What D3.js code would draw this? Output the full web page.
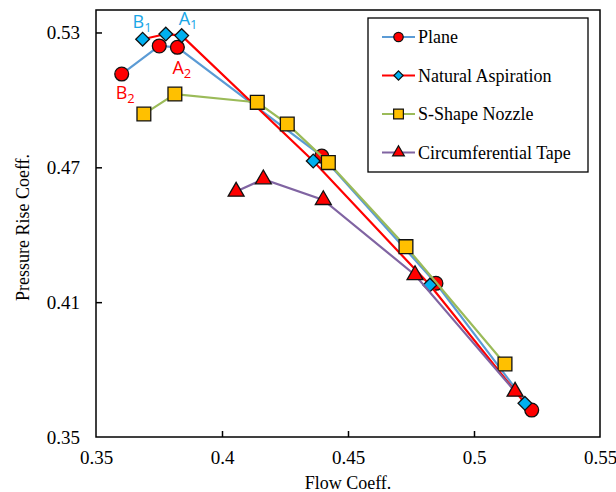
<!DOCTYPE html>
<html>
<head>
<meta charset="utf-8">
<script src="https://cdn.jsdelivr.net/npm/d3@7"></script>
<style>
  body { margin: 0; background: #fff; }
  svg { display: block; font-family: "Liberation Serif", "Times New Roman", serif; }
</style>
</head>
<body>
<div class="visHolder"></div>
<script>
// ========================================
// Data
// ========================================
const seriesNames = ['Plane', 'Natural Aspiration', 'S-Shape Nozzle', 'Circumferential Tape'];

const planeFlow     = [0.3602, 0.3751, 0.3823, 0.4396, 0.4849, 0.5229];
const planePress    = [0.5115, 0.5240, 0.5234, 0.4750, 0.4184, 0.3620];

const naturalFlow   = [0.3685, 0.3777, 0.3840, 0.4362, 0.4825, 0.5202];
const naturalPress  = [0.5270, 0.5293, 0.5286, 0.4728, 0.4176, 0.3650];

const sShapeFlow    = [0.3690, 0.3813, 0.4140, 0.4259, 0.4422, 0.4730, 0.5123];
const sShapePress   = [0.4937, 0.5026, 0.4989, 0.4893, 0.4721, 0.4347, 0.3825];

const tapeFlow      = [0.4056, 0.4164, 0.4402, 0.4766, 0.5163];
const tapePress     = [0.4592, 0.4647, 0.4555, 0.4221, 0.3702];

const xTicks = [0.35, 0.4, 0.45, 0.5, 0.55];
const yTicks = [0.35, 0.41, 0.47, 0.53];

// point labels: text, subscript, series the label belongs to, index of point
const pointLabels = [
  {t: 'B', sub: '1', s: 1, i: 0},
  {t: 'A', sub: '1', s: 1, i: 2},
  {t: 'A', sub: '2', s: 0, i: 2},
  {t: 'B', sub: '2', s: 0, i: 0}
];

// ========================================
// Dimensions and styles
// ========================================
const width = 616, height = 492;
const plot = {left: 96, right: 600, top: 10, bottom: 437};
const serif = '"Liberation Serif", "Times New Roman", serif';

const styles = [
  {line: '#5b9bd5', fill: '#ff0000', shape: d3.symbolCircle,   size: 150},
  {line: '#ff0000', fill: '#00b0f0', shape: d3.symbolDiamond2, size: 120},
  {line: '#9bbb59', fill: '#ffc000', shape: d3.symbolSquare,   size: 190},
  {line: '#8064a2', fill: '#ff0000', shape: d3.symbolTriangle, size: 110}
];
const labelColors = ['#ff0000', '#1aa6e6'];

const series = [
  planeFlow.map((x, i) => ({x, y: planePress[i]})),
  naturalFlow.map((x, i) => ({x, y: naturalPress[i]})),
  sShapeFlow.map((x, i) => ({x, y: sShapePress[i]})),
  tapeFlow.map((x, i) => ({x, y: tapePress[i]}))
];

const svg = d3.select('.visHolder').append('svg')
  .attr('width', width)
  .attr('height', height);

const xScale = d3.scaleLinear().domain([0.35, 0.55]).range([plot.left, plot.right]);
const yScale = d3.scaleLinear().domain([0.35, 0.54]).range([plot.bottom, plot.top]);

// --- axes (ticks pointing inward)
const xAxis = svg.append('g')
  .attr('transform', `translate(0,${plot.bottom})`)
  .call(d3.axisBottom(xScale).tickValues(xTicks).tickSizeInner(-6).tickSizeOuter(0)
    .tickPadding(14).tickFormat(d => String(+d.toFixed(2))));
const yAxis = svg.append('g')
  .attr('transform', `translate(${plot.left},0)`)
  .call(d3.axisLeft(yScale).tickValues(yTicks).tickSizeInner(-6).tickSizeOuter(0)
    .tickPadding(16).tickFormat(d3.format('.2f')));

[xAxis, yAxis].forEach(ax => {
  ax.select('.domain').remove();
  ax.selectAll('line').attr('stroke', '#000').attr('stroke-width', 1.5);
  ax.selectAll('text').attr('fill', '#000').style('font-size', '19px')
    .style('font-family', serif);
});
xAxis.selectAll('.tick line').filter(d => d === 0.35 || d === 0.55).remove();
yAxis.selectAll('.tick line').filter(d => d === 0.35).remove();

// plot frame
svg.append('rect')
  .attr('x', plot.left).attr('y', plot.top)
  .attr('width', plot.right - plot.left).attr('height', plot.bottom - plot.top)
  .attr('fill', 'none').attr('stroke', '#000').attr('stroke-width', 1.5);

// axis titles
svg.append('text')
  .attr('x', (plot.left + plot.right) / 2).attr('y', 489)
  .attr('text-anchor', 'middle').style('font-size', '18px').style('font-family', serif)
  .text('Flow Coeff.');
svg.append('text')
  .attr('transform', 'rotate(-90)')
  .attr('x', -(plot.top + plot.bottom) / 2 - 4).attr('y', 29)
  .attr('text-anchor', 'middle').style('font-size', '18px').style('font-family', serif)
  .text('Pressure Rise Coeff.');

// ========================================
// Series: line + markers, drawn in order
// ========================================
const line = d3.line().x(d => xScale(d.x)).y(d => yScale(d.y));

series.forEach((data, s) => {
  const g = svg.append('g');
  g.append('path')
    .datum(data)
    .attr('d', line)
    .attr('fill', 'none')
    .attr('stroke', styles[s].line)
    .attr('stroke-width', 2.2);
  g.selectAll('path.mark')
    .data(data)
    .enter()
    .append('path')
      .attr('class', 'mark')
      .attr('d', d3.symbol().type(styles[s].shape).size(styles[s].size))
      .attr('transform', d => `translate(${xScale(d.x)},${yScale(d.y)})`)
      .attr('fill', styles[s].fill)
      .attr('stroke', '#111')
      .attr('stroke-width', 1.3);
});

// point labels A1, B1, A2, B2
const labelOffsets = [[-10, -11], [-3, -11], [-5, 27], [-6, 25]];
pointLabels.forEach((p, k) => {
  const d = series[p.s][p.i];
  const t = svg.append('text')
    .attr('x', xScale(d.x) + labelOffsets[k][0])
    .attr('y', yScale(d.y) + labelOffsets[k][1])
    .attr('fill', labelColors[p.s === 1 ? 1 : 0])
    .style('font-family', '"Open Sans", "Liberation Sans", sans-serif')
    .style('font-size', '18px');
  t.append('tspan').text(p.t);
  t.append('tspan').attr('dy', 4).style('font-size', '13px').text(p.sub);
});

// =====================
// LEGEND
// =====================
const legend = svg.append('g');
legend.append('rect')
  .attr('x', 368).attr('y', 18).attr('width', 220).attr('height', 154)
  .attr('fill', '#fff').attr('stroke', '#000').attr('stroke-width', 1.3);

const legendSize = [70, 55, 95, 60];
const rows = legend.selectAll('g.row')
  .data(seriesNames)
  .enter()
  .append('g')
    .attr('transform', (d, i) => `translate(382,${37 + i * 38.5})`);
rows.append('line')
  .attr('x1', 0).attr('x2', 33)
  .attr('stroke', (d, i) => styles[i].line).attr('stroke-width', 2.2);
rows.append('path')
  .attr('d', (d, i) => d3.symbol().type(styles[i].shape).size(legendSize[i])())
  .attr('transform', 'translate(16.5,0)')
  .attr('fill', (d, i) => styles[i].fill)
  .attr('stroke', '#111').attr('stroke-width', 1.2);
rows.append('text')
  .attr('x', 36).attr('y', 6)
  .style('font-size', '18px').style('font-family', serif)
  .text(d => d);
</script>
</body>
</html>
